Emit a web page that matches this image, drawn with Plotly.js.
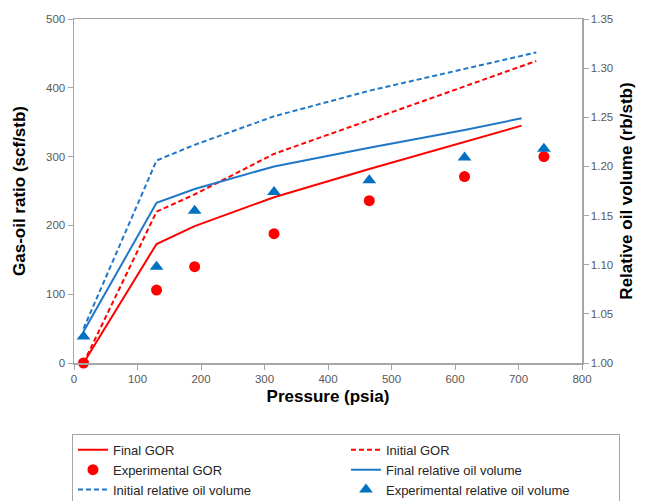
<!DOCTYPE html>
<html>
<head>
<meta charset="utf-8">
<script src="https://cdn.plot.ly/plotly-3.0.1.min.js"></script>
<style>html,body{margin:0;padding:0;background:#fff;}#chart{width:649px;height:501px;}</style>
</head>
<body>
<div id="chart"></div>
<script>
// Simulated curves (pressure in psia)
var finalP = [15, 130, 190, 315, 465, 615, 705];
var finalGOR = [0, 173, 199, 241, 282, 321, 345];
var finalRV = [1.032, 1.163, 1.177, 1.200, 1.219, 1.237, 1.249];

var initialP = [15, 130, 190, 315, 465, 615, 728];
var initialGOR = [0, 220, 245, 304, 353, 402, 439];
var initialRV = [1.035, 1.206, 1.222, 1.251, 1.277, 1.299, 1.316];

// Experimental data
var expP = [15, 130, 190, 315, 465, 615, 740];
var expGOR = [0, 106, 140, 188, 236, 271, 300];
var expRV = [1.027, 1.098, 1.155, 1.174, 1.186, 1.209, 1.218];

var red = '#FF0000';
var blue = '#1F77C8';
var blueMk = '#0070C0';

var traces = [
  {x: finalP, y: finalGOR, name: 'Final GOR', mode: 'lines', line: {color: red, width: 2}, yaxis: 'y'},
  {x: initialP, y: initialGOR, name: 'Initial GOR', mode: 'lines', line: {color: red, width: 2, dash: '5px,3px'}, yaxis: 'y'},
  {x: expP, y: expGOR, name: 'Experimental GOR', mode: 'markers', cliponaxis: false, marker: {color: red, size: 11, symbol: 'circle'}, yaxis: 'y'},
  {x: finalP, y: finalRV, name: 'Final relative oil volume', mode: 'lines', line: {color: blue, width: 2}, yaxis: 'y2'},
  {x: initialP, y: initialRV, name: 'Initial relative oil volume', mode: 'lines', line: {color: blue, width: 2, dash: '5px,3px'}, yaxis: 'y2'},
  {x: expP, y: expRV, name: 'Experimental relative oil volume', mode: 'markers', cliponaxis: false, marker: {color: blueMk, size: 12, symbol: 'triangle-up'}, yaxis: 'y2'}
];

var tickFont = {family: 'Liberation Sans, Arial, sans-serif', size: 11.5, color: '#595959'};
var titleFont = {family: 'Liberation Sans, Arial, sans-serif', size: 17, color: '#000', weight: 'bold'};
var axisLine = '#A6A6A6';

var layout = {
  width: 649, height: 501,
  margin: {l: 74, r: 67, t: 19, b: 138, autoexpand: false},
  paper_bgcolor: '#fff', plot_bgcolor: '#fff',
  showlegend: true,
  xaxis: {
    range: [0, 800], dtick: 100, tick0: 0,
    showgrid: false, zeroline: false,
    showline: true, linecolor: axisLine, linewidth: 1.5, mirror: true,
    ticks: 'outside', ticklen: 5, tickcolor: axisLine,
    tickfont: tickFont,
    title: {text: 'Pressure (psia)', font: titleFont, standoff: 6},
    automargin: false
  },
  yaxis: {
    range: [0, 500], dtick: 100, tick0: 0,
    showgrid: false, zeroline: false,
    showline: true, linecolor: axisLine, linewidth: 1.5,
    ticks: 'outside', ticklen: 5, tickcolor: axisLine,
    tickfont: tickFont,
    title: {text: 'Gas-oil ratio (scf/stb)', font: titleFont, standoff: 16},
    automargin: false
  },
  yaxis2: {
    range: [1.0, 1.35], dtick: 0.05, tick0: 1.0, tickformat: '.2f',
    overlaying: 'y', side: 'right',
    showgrid: false, zeroline: false,
    showline: true, linecolor: axisLine, linewidth: 1.5,
    ticks: 'outside', ticklen: 5, tickcolor: axisLine,
    tickfont: tickFont,
    title: {text: 'Relative oil volume (rb/stb)', font: titleFont, standoff: 8},
    automargin: false
  },
  legend: {
    orientation: 'h',
    x: -0.004, xanchor: 'left',
    y: -0.206, yanchor: 'top',
    entrywidth: 228, entrywidthmode: 'pixels',
    bordercolor: '#A6A6A6', borderwidth: 1,
    bgcolor: '#fff',
    font: {family: 'Liberation Sans, Arial, sans-serif', size: 13, color: '#262626'},
    traceorder: 'normal'
  }
};

Plotly.newPlot('chart', traces, layout, {displayModeBar: false, staticPlot: true});
</script>
</body>
</html>
